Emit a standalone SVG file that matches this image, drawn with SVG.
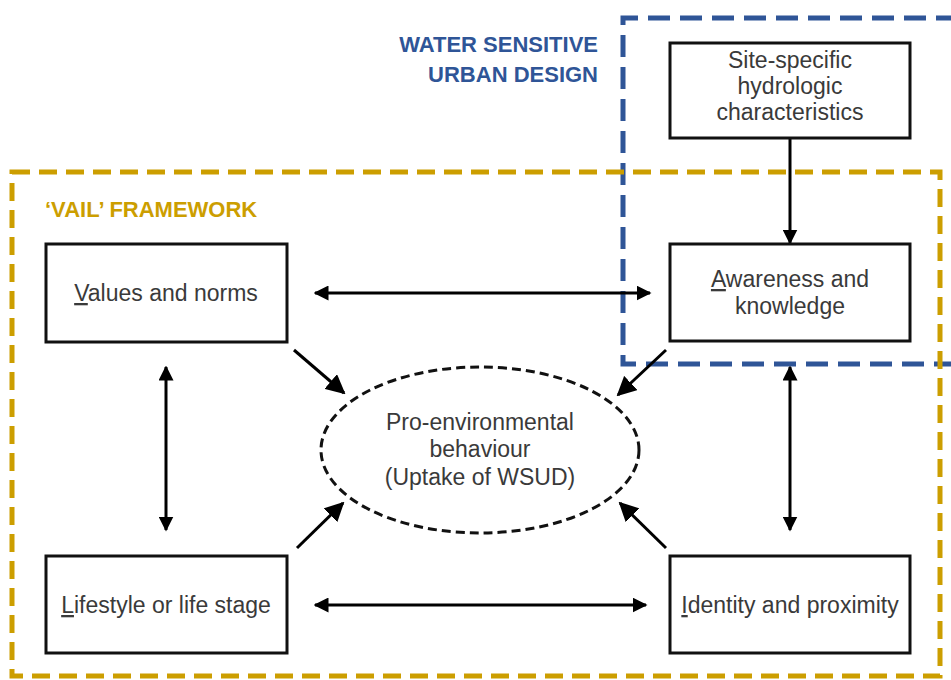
<svg xmlns="http://www.w3.org/2000/svg" width="951" height="680" viewBox="0 0 951 680">
  <style>
    .box { fill: #ffffff; stroke: #111111; stroke-width: 3; }
    .lbl { font-family: "Liberation Sans", Arial, sans-serif; font-size: 23px; fill: #3a3a3a; text-anchor: middle; }
    .title { font-family: "Liberation Sans", Arial, sans-serif; font-size: 22px; font-weight: bold; }
    .conn { stroke: #000000; stroke-width: 3; fill: none; }
    .u { text-decoration: underline; }
  </style>
  <defs>
    <marker id="ah" viewBox="0 0 10 10" refX="9" refY="5" markerWidth="5" markerHeight="5" orient="auto-start-reverse" markerUnits="strokeWidth">
      <path d="M0,0 L10,5 L0,10 Z" fill="#000000"/>
    </marker>
    <marker id="ahBig" viewBox="0 0 10 10" refX="9" refY="5" markerWidth="6.5" markerHeight="6.5" orient="auto" markerUnits="strokeWidth">
      <path d="M0,0 L10,5 L0,10 Z" fill="#000000"/>
    </marker>
  </defs>

  <rect width="951" height="680" fill="#ffffff"/>

  <!-- framework boundaries -->
  <g id="wsud-frame">
    <path d="M958,18 H623 V364 H958" fill="none" stroke="#2F5597" stroke-width="5" stroke-dasharray="22 10"/>
    <text x="598" y="52" class="title" fill="#2F5597" text-anchor="end">WATER SENSITIVE</text>
    <text x="598" y="82" class="title" fill="#2F5597" text-anchor="end">URBAN DESIGN</text>
  </g>
  <g id="vail-frame">
    <rect x="12" y="172" width="928" height="504" fill="none" stroke="#CC9E00" stroke-width="5" stroke-dasharray="18 9"/>
    <text x="45" y="217" class="title" fill="#CC9E00">‘VAIL’ FRAMEWORK</text>
  </g>

  <!-- connectors -->
  <g id="connectors">
    <line class="conn" x1="790" y1="138" x2="790" y2="243" marker-end="url(#ah)"/>
    <line class="conn" x1="315" y1="293" x2="650" y2="293" marker-start="url(#ah)" marker-end="url(#ah)"/>
    <line class="conn" x1="315" y1="605" x2="646" y2="605" marker-start="url(#ah)" marker-end="url(#ah)"/>
    <line class="conn" x1="166" y1="367" x2="166" y2="530" marker-start="url(#ah)" marker-end="url(#ah)"/>
    <line class="conn" x1="790" y1="367" x2="790" y2="530" marker-start="url(#ah)" marker-end="url(#ah)"/>
    <line class="conn" x1="294" y1="350" x2="344" y2="393" marker-end="url(#ahBig)"/>
    <line class="conn" x1="666" y1="350" x2="618" y2="395" marker-end="url(#ahBig)"/>
    <line class="conn" x1="297" y1="548" x2="343" y2="503" marker-end="url(#ahBig)"/>
    <line class="conn" x1="666" y1="548" x2="620" y2="503" marker-end="url(#ahBig)"/>
  </g>

  <!-- nodes -->
  <g id="site-hydrology">
    <rect class="box" x="670" y="43" width="240" height="95"/>
    <text class="lbl" x="790" y="68">Site-specific</text>
    <text class="lbl" x="790" y="94">hydrologic</text>
    <text class="lbl" x="790" y="120">characteristics</text>
  </g>
  <g id="values">
    <rect class="box" x="46" y="244" width="241" height="98"/>
    <text class="lbl" x="166" y="301"><tspan class="u">V</tspan>alues and norms</text>
  </g>
  <g id="awareness">
    <rect class="box" x="670" y="244" width="240" height="97"/>
    <text class="lbl" x="790" y="287"><tspan class="u">A</tspan>wareness and</text>
    <text class="lbl" x="790" y="314">knowledge</text>
  </g>
  <g id="lifestyle">
    <rect class="box" x="46" y="556" width="241" height="97"/>
    <text class="lbl" x="166" y="613"><tspan class="u">L</tspan>ifestyle or life stage</text>
  </g>
  <g id="identity">
    <rect class="box" x="670" y="556" width="240" height="97"/>
    <text class="lbl" x="790" y="613"><tspan class="u">I</tspan>dentity and proximity</text>
  </g>
  <g id="behaviour">
    <ellipse cx="480" cy="450" rx="159" ry="83" fill="#ffffff" stroke="#111111" stroke-width="3" stroke-dasharray="9 5"/>
    <text class="lbl" x="480" y="430">Pro-environmental</text>
    <text class="lbl" x="480" y="457">behaviour</text>
    <text class="lbl" x="480" y="485">(Uptake of WSUD)</text>
  </g>
</svg>
